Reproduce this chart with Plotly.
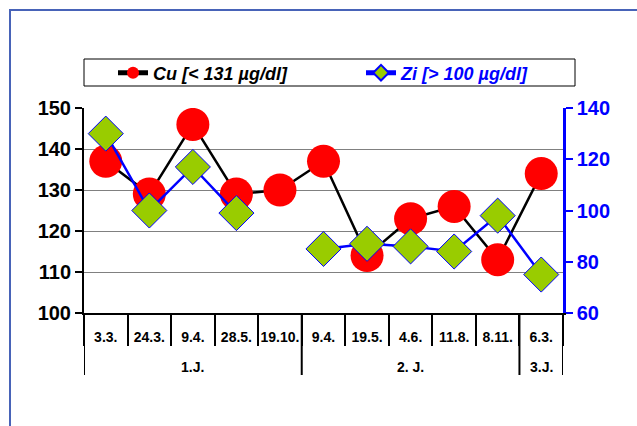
import plotly.graph_objects as go

# Sampling dates grouped by year of observation
years = ["1.J."] * 5 + ["2. J."] * 5 + ["3.J."]
dates = ["3.3.", "24.3.", "9.4.", "28.5.", "19.10.",
         "9.4.", "19.5.", "4.6.", "11.8.", "8.11.", "6.3."]

# Serum copper (left axis) and zinc (right axis), µg/dl
cu_values = [137, 129, 146, 129, 130, 137, 114, 123, 126, 113, 134]
zi_values = [130, 100, 117, 99, None, 85, 87, 86, 84, 98, 75]

left_ticks = [100, 110, 120, 130, 140, 150]
right_ticks = [60, 80, 100, 120, 140]

FONT = "Liberation Sans, Arial, sans-serif"
W, H = 637, 426
ML, MR, MT, MB = 84, 74, 108, 113
PW, PH = W - ML - MR, H - MT - MB

positions = list(range(len(dates)))


def px_x(px):
    return (px - ML) / PW


def px_y(py):
    return (H - MB - py) / PH


# group spans (first index, last index) in order of appearance
groups = []
for i, yr in enumerate(years):
    if groups and groups[-1][0] == yr:
        groups[-1][2] = i
    else:
        groups.append([yr, i, i])

fig = go.Figure()

fig.add_trace(go.Scatter(
    x=positions, y=cu_values, name="Cu [< 131 µg/dl]",
    mode="lines+markers",
    line=dict(color="black", width=2.5),
    marker=dict(symbol="circle", size=33, color="#FF0000"),
    yaxis="y", legend="legend",
))

fig.add_trace(go.Scatter(
    x=positions, y=zi_values, name="Zi [> 100 µg/dl]",
    mode="lines+markers",
    line=dict(color="#0000FF", width=2.5),
    marker=dict(symbol="diamond", size=27, color="#99CC00",
                line=dict(color="#0000FF", width=1)),
    connectgaps=False,
    yaxis="y2", legend="legend2",
))

legend_common = dict(
    orientation="h",
    xref="container", yref="container",
    xanchor="left", y=1 - 73 / H, yanchor="middle",
    bgcolor="rgba(0,0,0,0)", borderwidth=0,
    itemsizing="constant",
)

annotations = []
shapes = [
    # legend box
    dict(type="rect", xref="paper", yref="paper",
         x0=px_x(84), x1=px_x(575), y0=px_y(86), y1=px_y(59),
         line=dict(color="black", width=1), fillcolor="rgba(0,0,0,0)"),
    # outer frame
    dict(type="rect", xref="paper", yref="paper",
         x0=px_x(10), x1=px_x(660), y0=px_y(450), y1=px_y(10),
         line=dict(color="#4863B8", width=2), fillcolor="rgba(0,0,0,0)",
         layer="below"),
]

# year labels and long separators below the date labels
bounds = set()
for name, i0, i1 in groups:
    annotations.append(dict(
        x=(i0 + i1) / 2, xref="x", y=px_y(367), yref="paper",
        text=name, showarrow=False, yanchor="middle",
        font=dict(family=FONT, size=14, color="black", weight="bold"),
    ))
    bounds.update([i0 - 0.5, i1 + 0.5])
for b in sorted(bounds):
    shapes.append(dict(
        type="line", xref="x", yref="paper",
        x0=b, x1=b, y0=px_y(313), y1=px_y(375),
        line=dict(color="black", width=2),
    ))

fig.update_layout(
    width=W, height=H,
    margin=dict(l=ML, r=MR, t=MT, b=MB, autoexpand=False),
    paper_bgcolor="white", plot_bgcolor="white",
    font=dict(family=FONT, color="black"),
    showlegend=True,
    legend=dict(legend_common, x=113 / W,
                font=dict(family=FONT, size=18, color="black",
                          weight="bold", style="italic")),
    legend2=dict(legend_common, x=361 / W,
                 font=dict(family=FONT, size=18, color="#0000FF",
                           weight="bold", style="italic")),
    xaxis=dict(
        range=[-0.5, len(dates) - 0.5], autorange=False,
        tickmode="array", tickvals=positions, ticktext=dates,
        tickangle=0, ticks="", ticklabelstandoff=10,
        minor=dict(tickmode="linear", tick0=-0.5, dtick=1,
                   ticks="outside", ticklen=31, tickwidth=2,
                   tickcolor="black", showgrid=False),
        showline=True, linecolor="black", linewidth=2,
        tickfont=dict(family=FONT, size=14, color="black", weight="bold"),
        showgrid=False, zeroline=False, fixedrange=True,
    ),
    yaxis=dict(
        range=[100, 150], tickvals=left_ticks,
        showline=True, linecolor="black", linewidth=2,
        ticks="outside", ticklen=7, tickwidth=2, tickcolor="black",
        showgrid=True, gridcolor="#808080", gridwidth=1,
        zeroline=False,
        tickfont=dict(family=FONT, size=20, color="black", weight="bold"),
    ),
    yaxis2=dict(
        range=[60, 140], tickvals=right_ticks,
        overlaying="y", side="right", anchor="x",
        showline=True, linecolor="#0000FF", linewidth=2.5,
        ticks="outside", ticklen=7, tickwidth=2, tickcolor="#0000FF",
        showgrid=False, zeroline=False,
        tickfont=dict(family=FONT, size=20, color="#0000FF", weight="bold"),
    ),
    yaxis3=dict(
        range=[60, 140], tickvals=right_ticks,
        overlaying="y", side="right", anchor="x",
        showline=False, showticklabels=False,
        ticks="inside", ticklen=7, tickwidth=2, tickcolor="#0000FF",
        showgrid=False, zeroline=False,
    ),
    annotations=annotations,
    shapes=shapes,
)

fig.write_html("out.html")
